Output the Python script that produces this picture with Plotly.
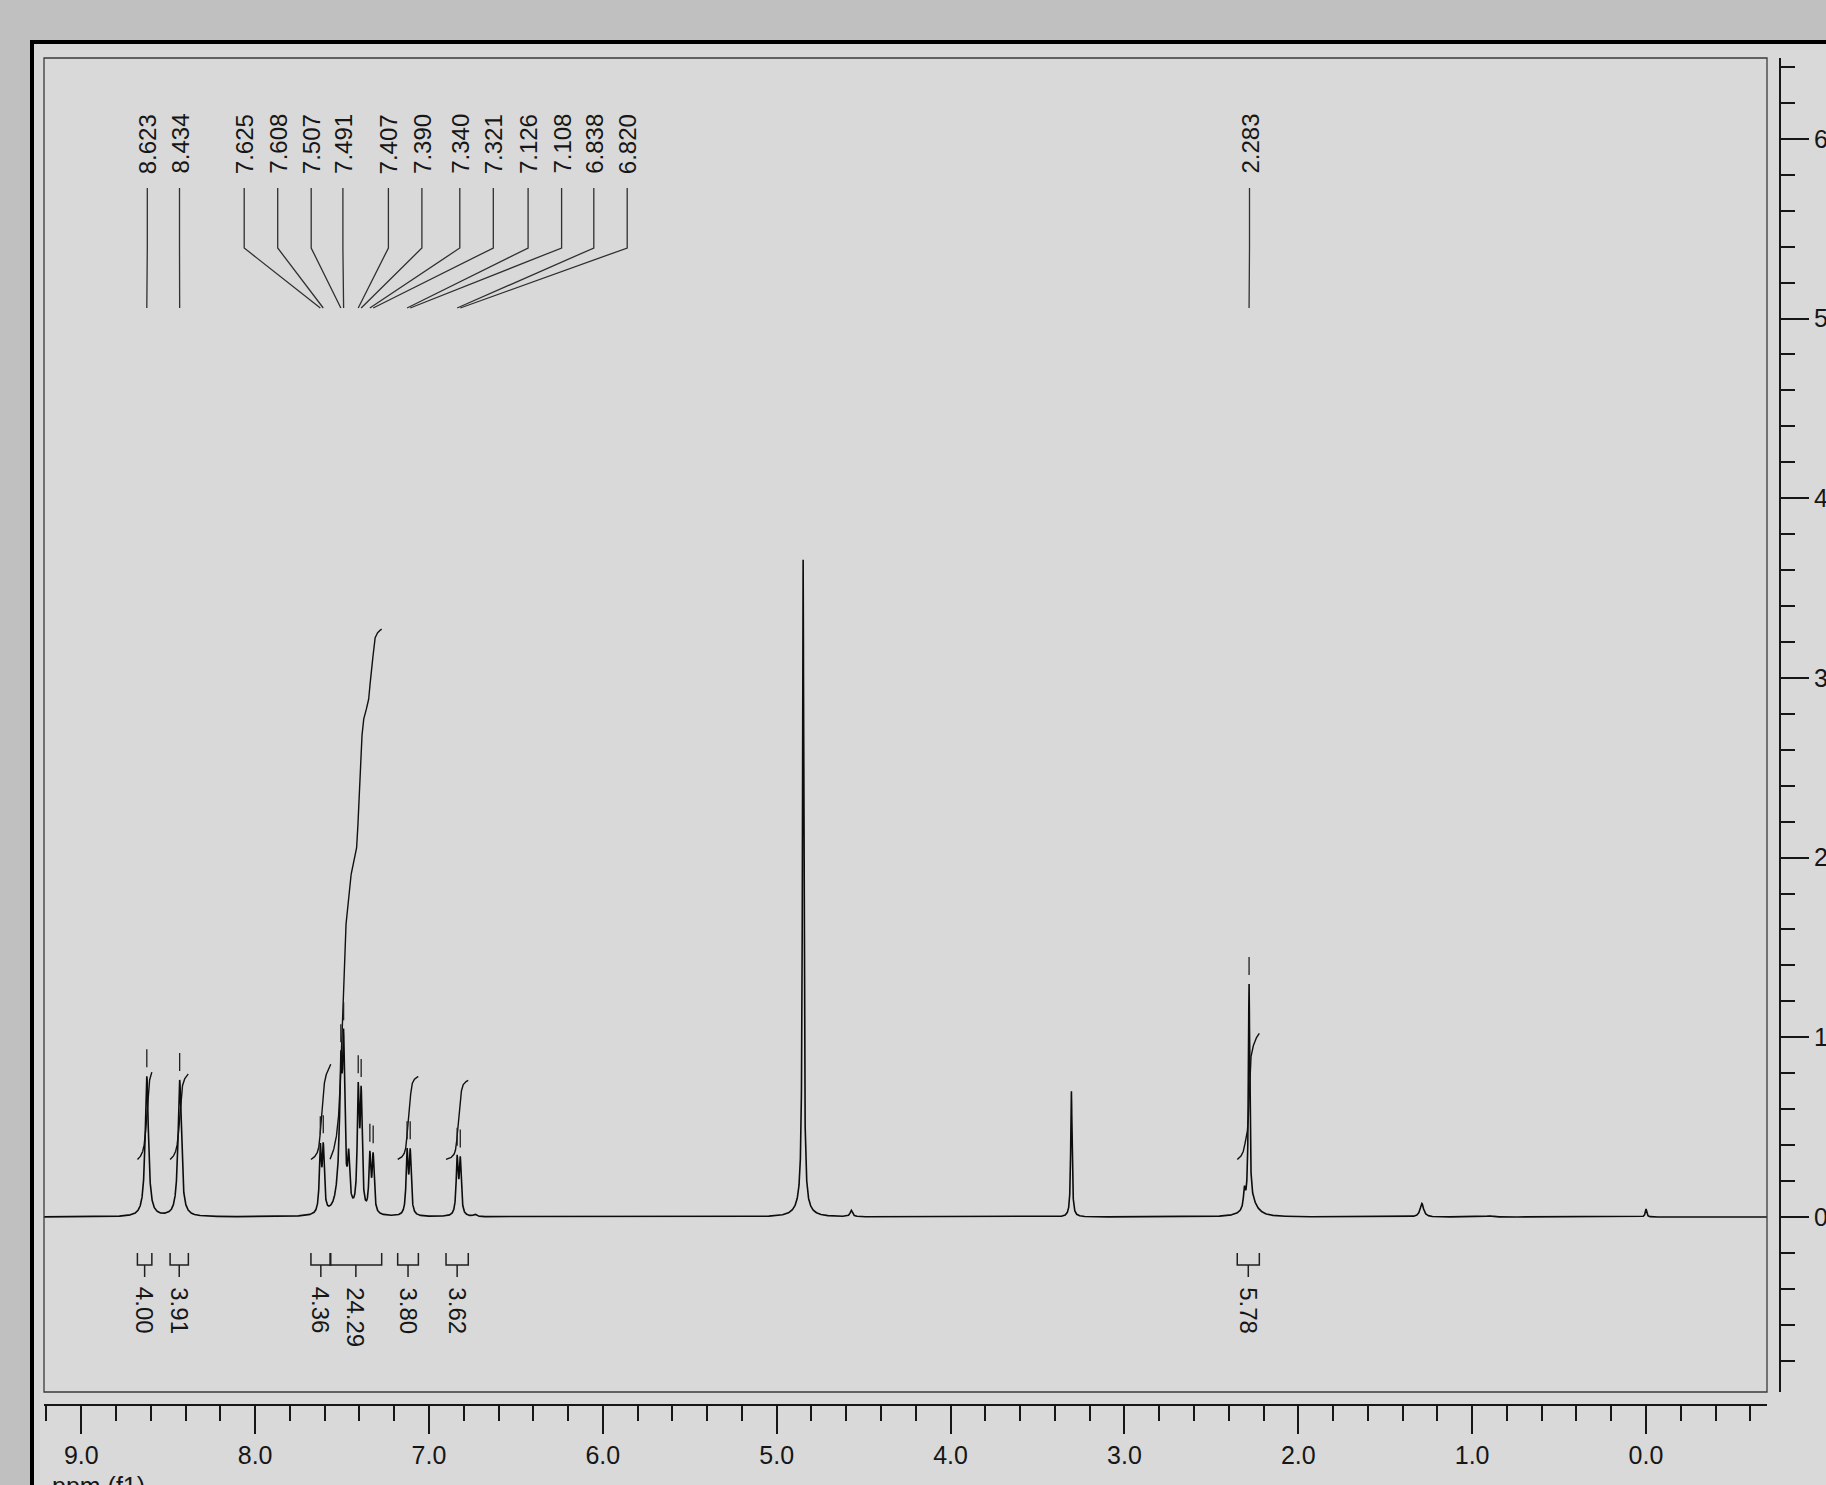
import numpy as np
import plotly.graph_objects as go

# ---------------- data ----------------
# spectrum lines: centre (ppm), height (intensity units of the right axis), half width (ppm)
peak_ppm = [8.623, 8.434, 7.625, 7.608, 7.505, 7.507, 7.491, 7.462, 7.407, 7.390,
            7.340, 7.321, 7.126, 7.108, 6.838, 6.820, 6.735, 4.848, 4.855, 4.571,
            3.305, 2.310, 2.283, 2.270, 1.289, 0.900, 0.000]
peak_height = [0.78, 0.76, 0.35, 0.35, 0.33, 0.48, 0.72, 0.25, 0.64, 0.62,
               0.31, 0.31, 0.34, 0.34, 0.31, 0.30, 0.012, 3.60, 0.06, 0.035,
               0.70, 0.10, 1.22, 0.08, 0.075, 0.006, 0.045]
peak_hwhm = [0.011, 0.011, 0.0065, 0.0065, 0.022, 0.0065, 0.0065, 0.0065, 0.0065, 0.0065,
             0.0065, 0.0065, 0.0065, 0.0065, 0.0065, 0.0065, 0.010, 0.0045, 0.040, 0.008,
             0.0045, 0.006, 0.0045, 0.040, 0.012, 0.020, 0.005]

# picked peaks (labels on top)
label_ppm = [8.623, 8.434, 7.625, 7.608, 7.507, 7.491, 7.407, 7.390,
             7.340, 7.321, 7.126, 7.108, 6.838, 6.820, 2.283]

# integrals: region (ppm from, ppm to) and normalised value
integral_from = [8.677, 8.489, 7.679, 7.569, 7.180, 6.902, 2.351]
integral_to = [8.594, 8.384, 7.565, 7.272, 7.061, 6.774, 2.224]
integral_value = [4.00, 3.91, 4.36, 24.29, 3.80, 3.62, 5.78]

# ---------------- layout constants ----------------
W, H = 1826, 1485
PLOT_L, PLOT_R, PLOT_T, PLOT_B = 44, 1780, 58, 1405   # plot area incl. offset axes
DATA_R, DATA_B = 1767, 1392                           # data frame right / bottom
X_RANGE = [9.2143, -0.696]
Y_RANGE = [-0.974, 6.450]
INT_OFFSET = 0.32      # integral curve start above baseline
INT_SCALE = 0.1215     # curve rise per integral unit

# label text x positions (pixels) after label spreading
label_px_x = [147.3, 179.5, 244.2, 277.7, 311.2, 342.9, 388.4, 421.9,
              459.8, 493.3, 528.1, 561.6, 593.8, 627.2, 1249.5]

FONT = "Liberation Sans, Arial, sans-serif"
INK = "#161616"


def px_x(px):
    return (px - PLOT_L) / (PLOT_R - PLOT_L)


def px_y(py):
    return (PLOT_B - py) / (PLOT_B - PLOT_T)


def px2ppm(px):
    return X_RANGE[0] + (px - PLOT_L) / (DATA_R - PLOT_L) * (X_RANGE[1] - X_RANGE[0])


def py2y(py):
    return Y_RANGE[1] - (py - PLOT_T) / (DATA_B - PLOT_T) * (Y_RANGE[1] - Y_RANGE[0])


def model(x):
    x = np.asarray(x, dtype=float)
    s = np.zeros_like(x)
    for c, h, w in zip(peak_ppm, peak_height, peak_hwhm):
        s += h * w * w / (w * w + (x - c) ** 2)
    return s


x = np.linspace(X_RANGE[0], X_RANGE[1], 24001)
y = model(x)

fig = go.Figure()
fig.add_trace(go.Scatter(x=x, y=y, mode="lines",
                         line=dict(color="#0c0c0c", width=1.6),
                         hoverinfo="skip", showlegend=False))

# integral curves
for a, b, v in zip(integral_from, integral_to, integral_value):
    m = (x <= a) & (x >= b)
    xs = x[m]
    cs = np.cumsum(y[m])
    frac = cs / cs[-1]
    fig.add_trace(go.Scatter(x=xs, y=INT_OFFSET + INT_SCALE * v * frac, mode="lines",
                             line=dict(color="#101010", width=1.4),
                             hoverinfo="skip", showlegend=False))

shapes = []
annotations = []

# panel with thick black frame
shapes.append(dict(type="rect", xref="paper", yref="paper", layer="below",
                   x0=px_x(32), y0=px_y(42), x1=px_x(1950), y1=px_y(1650),
                   fillcolor="#d9d9d9", line=dict(color="black", width=4)))
# data frame
shapes.append(dict(type="rect", xref="x domain", yref="y domain",
                   x0=0, x1=1, y0=0, y1=1, line=dict(color="#3a3a3a", width=1.3)))

# peak labels and leader lines
for p, lx in zip(label_ppm, label_px_x):
    lppm = px2ppm(lx)
    path = "M {a},{b} L {a},{c} L {d},{e}".format(
        a=lppm, b=py2y(188), c=py2y(248), d=p, e=py2y(308))
    shapes.append(dict(type="path", xref="x", yref="y", path=path,
                       line=dict(color="#303030", width=1.3)))
    annotations.append(dict(x=lppm, y=py2y(144), xref="x", yref="y",
                            text="{:.3f}".format(p), textangle=-90, showarrow=False,
                            xanchor="center", yanchor="middle",
                            font=dict(family=FONT, size=24, color=INK)))
    s = float(model([p])[0])
    shapes.append(dict(type="line", xref="x", yref="y", x0=p, x1=p,
                       y0=s + 0.05, y1=s + 0.15, line=dict(color="#202020", width=1.3)))

# integral brackets and values
for a, b, v in zip(integral_from, integral_to, integral_value):
    mid = (a + b) / 2
    path = "M {a},{t} L {a},{h} L {b},{h} L {b},{t} M {m},{h} L {m},{s}".format(
        a=a, b=b, m=mid, t=py2y(1253), h=py2y(1265), s=py2y(1277))
    shapes.append(dict(type="path", xref="x", yref="y", path=path,
                       line=dict(color="#202020", width=1.5)))
    annotations.append(dict(x=mid, y=py2y(1285), xref="x", yref="y",
                            text="{:.2f}".format(v), textangle=90, showarrow=False,
                            xanchor="center", yanchor="top",
                            font=dict(family=FONT, size=24, color=INK)))

annotations.append(dict(x=px_x(50), y=px_y(1486), xref="paper", yref="paper",
                        text="ppm (f1)", showarrow=False, xanchor="left", yanchor="middle",
                        font=dict(family=FONT, size=25, color=INK)))

axis_common = dict(showgrid=False, zeroline=False, showline=True, linecolor=INK,
                   linewidth=2, ticks="outside", ticklen=28, tickwidth=1.5,
                   tickcolor=INK, tickmode="linear", tick0=0, dtick=1,
                   automargin=False,
                   tickfont=dict(family=FONT, size=25, color=INK), fixedrange=True)

fig.update_layout(
    template="none",
    width=W, height=H, autosize=False,
    margin=dict(l=PLOT_L, r=W - PLOT_R, t=PLOT_T, b=H - PLOT_B, pad=0,
                autoexpand=False),
    paper_bgcolor="#c0c0c0", plot_bgcolor="rgba(0,0,0,0)",
    showlegend=False, hovermode=False,
    xaxis=dict(range=X_RANGE, domain=[0, (DATA_R - PLOT_L) / (PLOT_R - PLOT_L)],
               anchor="free", position=0, side="bottom", tickformat=".1f",
               minor=dict(dtick=0.2, tick0=0, ticklen=15, tickwidth=1.5,
                          tickcolor=INK, ticks="outside", showgrid=False),
               **axis_common),
    yaxis=dict(range=Y_RANGE, domain=[(PLOT_B - DATA_B) / (PLOT_B - PLOT_T), 1],
               anchor="free", position=1, side="right", tickformat="d",
               minor=dict(dtick=0.2, tick0=0, ticklen=14, tickwidth=1.5,
                          tickcolor=INK, ticks="outside", showgrid=False),
               **axis_common),
    shapes=shapes,
    annotations=annotations,
)

page_css = ("document.documentElement.style.margin='0';"
            "document.body.style.margin='0';"
            "document.body.style.overflow='hidden';"
            "document.documentElement.style.background='#c0c0c0';"
            "document.body.style.background='#c0c0c0';")

fig.write_html("out.html", config={"displayModeBar": False}, post_script=page_css)
